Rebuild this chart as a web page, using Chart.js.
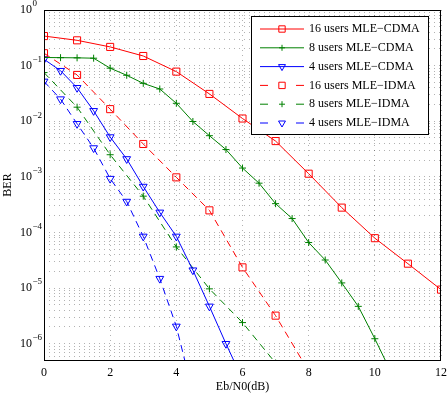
<!DOCTYPE html>
<html>
<head>
<meta charset="utf-8">
<script src="https://cdn.jsdelivr.net/npm/chart.js@4"></script>
<style>
  html, body { margin: 0; padding: 0; background: #fff; }
  #wrap { width: 447px; height: 397px; }
</style>
</head>
<body>
<div id="wrap"><canvas id="ber-chart"></canvas></div>
<script>
// BER vs Eb/N0 curves, MLE receiver, CDMA vs IDMA

const ebnoInt = [0, 1, 2, 3, 4, 5, 6, 7, 8, 9, 10, 11, 12];
const ebno8Cdma = [0, 0.5, 1, 1.5, 2, 2.5, 3, 3.5, 4, 4.5, 5, 5.5, 6, 6.5, 7, 7.5, 8, 8.5, 9, 9.5, 10, 10.5];
const ebno4Cdma = [0, 0.5, 1, 1.5, 2, 2.5, 3, 3.5, 4, 4.5, 5, 5.5, 6];
const ebno16Idma = [0, 1, 2, 3, 4, 5, 6, 7, 8];
const ebno8Idma = [0, 1, 2, 3, 4, 5, 6, 7];
const ebno4Idma = [0, 0.5, 1, 1.5, 2, 2.5, 3, 3.5, 4, 4.5];

const ber16Cdma = [0.34, 0.285, 0.217, 0.149, 0.078, 0.031, 0.0112, 0.0044, 0.00114, 2.8e-4, 7.9e-5, 2.75e-5, 9.4e-6];
const ber8Cdma = [0.14, 0.139, 0.138, 0.136, 0.090, 0.067, 0.048, 0.038, 0.021, 0.0099, 0.0055, 0.0031,
                  0.00144, 7.7e-4, 3.3e-4, 1.78e-4, 6.6e-5, 3.2e-5, 1.24e-5, 4.7e-6, 1.23e-6, 3e-7];
const ber4Cdma = [0.13, 0.081, 0.040, 0.0154, 0.0052, 0.0021, 6.7e-4, 2.3e-4, 8.5e-5, 2.1e-5, 4.7e-6, 1.0e-6, 2.3e-7];
const ber16Idma = [0.167, 0.068, 0.0165, 0.0039, 9.8e-4, 2.5e-4, 2.36e-5, 3.2e-6, 3.2e-7];
const ber8Idma = [0.075, 0.0179, 0.0025, 4.5e-4, 5.5e-5, 9.7e-6, 2.4e-6, 4.5e-7];
const ber4Idma = [0.052, 0.025, 0.009, 0.0033, 9.3e-4, 3.6e-4, 8.5e-5, 1.48e-5, 2.05e-6, 1.3e-7];

const seriesLabels = ['16 users MLE\u2212CDMA', '8 users MLE\u2212CDMA', '4 users MLE\u2212CDMA',
                      '16 users MLE\u2212IDMA', '8 users MLE\u2212IDMA', '4 users MLE\u2212IDMA'];
const xTicks = [0, 2, 4, 6, 8, 10, 12];
const yDecades = [-6, -5, -4, -3, -2, -1, 0];

const RED = '#ff0000', GREEN = '#008000', BLUE = '#0000ff';
const SERIF = '"Liberation Serif", "DejaVu Serif", serif';
const GRID = 'rgba(0,0,0,0.3)';

function pts(xs, ys) {
    return xs.map((x, i) => ({x: x, y: ys[i]}));
}

function series(label, xs, ys, color, marker, dashed) {
    const m = {
        square: {pointStyle: 'rect', radius: 5, rotation: 0},
        plus: {pointStyle: 'cross', radius: 3.5, rotation: 0},
        tri: {pointStyle: 'triangle', radius: 4.5, rotation: 180}
    }[marker];
    return {
        label: label,
        data: pts(xs, ys),
        borderColor: color,
        backgroundColor: color,
        borderWidth: 1,
        borderDash: dashed ? [7, 5] : [],
        pointStyle: m.pointStyle,
        pointRadius: m.radius,
        pointRotation: m.rotation,
        pointBackgroundColor: 'rgba(0,0,0,0)',
        pointBorderColor: color,
        pointBorderWidth: 1,
        tension: 0,
        fill: false,
        _marker: m,
        _dashed: dashed
    };
}

// frame, tick labels, titles and the legend box
const decorPlugin = {
    id: 'decor',
    afterDraw(chart) {
        const ctx = chart.ctx;
        const area = chart.chartArea;
        const xs = chart.scales.x, ys = chart.scales.y;
        ctx.save();

        ctx.strokeStyle = '#000';
        ctx.lineWidth = 1;
        ctx.setLineDash([]);
        ctx.strokeRect(Math.round(area.left) + 0.5, Math.round(area.top) + 0.5,
                       Math.round(area.right - area.left) - 1, Math.round(area.bottom - area.top));

        ctx.fillStyle = '#000';
        ctx.font = '12px ' + SERIF;
        ctx.textAlign = 'center';
        ctx.textBaseline = 'middle';
        xTicks.forEach(v => ctx.fillText(String(v), xs.getPixelForValue(v), area.bottom + 13));

        yDecades.forEach(k => {
            const y = ys.getPixelForValue(Math.pow(10, k));
            ctx.font = '12px ' + SERIF;
            ctx.textAlign = 'right';
            ctx.fillText('10', 32, y);
            ctx.font = '9px ' + SERIF;
            ctx.textAlign = 'left';
            ctx.fillText(k < 0 ? '\u2212' + (-k) : String(k), 32.5, y - 6);
        });

        ctx.font = '12px ' + SERIF;
        ctx.textAlign = 'center';
        ctx.fillText('Eb/N0(dB)', (area.left + area.right) / 2, 387);
        ctx.translate(8, (area.top + area.bottom) / 2);
        ctx.rotate(-Math.PI / 2);
        ctx.fillText('BER', 0, 0);
        ctx.setTransform(1, 0, 0, 1, 0, 0);

        // legend
        const lx = 251, ly = 16, lw = 177, lh = 118;
        ctx.fillStyle = '#fff';
        ctx.fillRect(lx, ly, lw, lh);
        ctx.strokeStyle = '#000';
        ctx.strokeRect(lx + 0.5, ly + 0.5, lw, lh);
        chart.data.datasets.forEach((ds, i) => {
            const y = 29 + i * 18.8;
            ctx.strokeStyle = ds.borderColor;
            ctx.lineWidth = 1;
            ctx.beginPath();
            if (ds._dashed) {
                ctx.moveTo(260, y); ctx.lineTo(268, y);
                ctx.moveTo(296, y); ctx.lineTo(304, y);
            } else {
                ctx.moveTo(260, y); ctx.lineTo(304, y);
            }
            ctx.stroke();
            ctx.fillStyle = 'rgba(0,0,0,0)';
            Chart.helpers.drawPoint(ctx, {
                pointStyle: ds._marker.pointStyle,
                rotation: ds._marker.rotation,
                radius: ds._marker.radius - 0.5,
                borderWidth: 1
            }, 282, y);
            ctx.fillStyle = '#000';
            ctx.font = '12px ' + SERIF;
            ctx.textAlign = 'left';
            ctx.fillText(ds.label, 309, y);
        });
        ctx.restore();
    }
};

new Chart(document.getElementById('ber-chart'), {
    type: 'line',
    data: {
        datasets: [
            series(seriesLabels[0], ebnoInt, ber16Cdma, RED, 'square', false),
            series(seriesLabels[1], ebno8Cdma, ber8Cdma, GREEN, 'plus', false),
            series(seriesLabels[2], ebno4Cdma, ber4Cdma, BLUE, 'tri', false),
            series(seriesLabels[3], ebno16Idma, ber16Idma, RED, 'square', true),
            series(seriesLabels[4], ebno8Idma, ber8Idma, GREEN, 'plus', true),
            series(seriesLabels[5], ebno4Idma, ber4Idma, BLUE, 'tri', true)
        ]
    },
    options: {
        responsive: true,
        maintainAspectRatio: false,
        animation: false,
        layout: {padding: {top: 10, right: 4, left: 0, bottom: 0}},
        plugins: {legend: {display: false}, tooltip: {enabled: false}},
        scales: {
            x: {
                type: 'linear',
                min: 0,
                max: 12,
                afterBuildTicks: s => { s.ticks = xTicks.map(v => ({value: v})); },
                afterFit: s => { s.height = 37; },
                ticks: {display: false},
                grid: {color: GRID, drawTicks: false, lineWidth: 1},
                border: {display: false, dash: [1, 4]}
            },
            y: {
                type: 'logarithmic',
                min: 5.1e-7,
                max: 1,
                afterBuildTicks: s => {
                    const t = [];
                    for (let k = -7; k <= 0; k++) {
                        for (let m = 1; m <= 9; m++) {
                            const v = m * Math.pow(10, k);
                            if (v >= 5.1e-7 && v <= 1) t.push({value: v});
                        }
                    }
                    s.ticks = t;
                },
                afterFit: s => { s.width = 44; },
                ticks: {display: false},
                grid: {color: GRID, drawTicks: false, lineWidth: 1},
                border: {display: false, dash: [1, 4]}
            }
        }
    },
    plugins: [decorPlugin]
});
</script>
</body>
</html>
